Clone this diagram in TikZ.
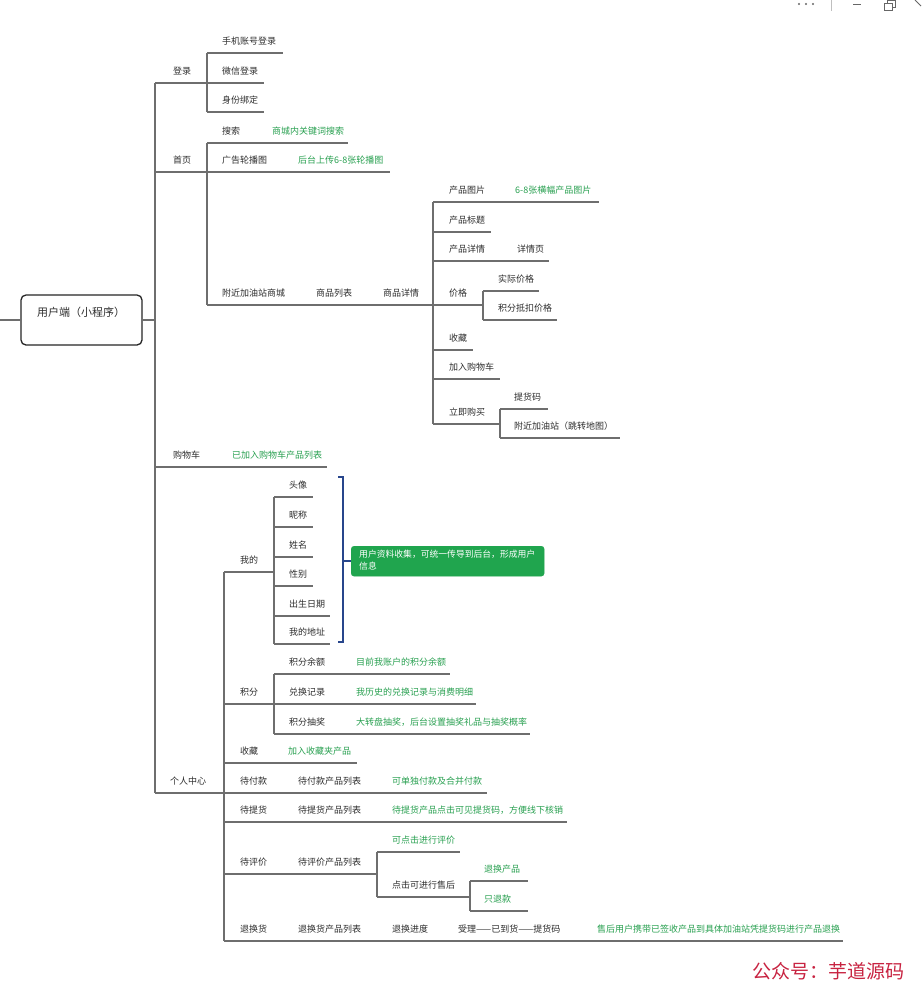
\documentclass[tikz,border=0pt]{standalone}
\usepackage{fontspec}
\setmainfont{Noto Sans CJK SC}
\definecolor{lgray}{RGB}{110,110,110}
\definecolor{tgray}{RGB}{45,45,45}
\definecolor{lgreen}{RGB}{40,160,80}
\definecolor{boxgreen}{RGB}{32,165,78}
\definecolor{brblue}{RGB}{40,70,140}
\definecolor{wmred}{RGB}{200,35,65}
\begin{document}
\begin{tikzpicture}[x=1pt,y=-1pt,
  txt/.style={anchor=base west, inner sep=0pt, font=\fontsize{9}{11}\selectfont, text=tgray},
  grn/.style={txt, text=lgreen},
  ln/.style={draw=lgray, line width=1.1pt},
  rootbox/.style={draw=black!85, line width=1.3pt, rounded corners=5pt},
]
\useasboundingbox[fill=white] (0,0) rectangle (921,990);

% ---------- window controls (top right) ----------
\foreach \xx in {799,806,813} \fill[black!60] (\xx,4) circle (1.1pt);
\draw[black!25, line width=0.6pt] (831,0) -- (831,11);
\draw[black!60, line width=0.8pt] (853,4) -- (861,4);
\draw[black!60, line width=0.8pt] (884,3) rectangle (892,10);
\draw[black!60, line width=0.8pt] (887,3) -- (887,0.5) -- (895,0.5) -- (895,7) -- (892,7);
\draw[black!60, line width=0.8pt] (915,0) -- (921,6);

% ---------- root ----------
\draw[rootbox] (21,295) rectangle (142,345);
\node[anchor=center, inner sep=0pt, font=\fontsize{11}{13}\selectfont, text=tgray] (root) at (81,312) {用户端（小程序）};
\coordinate (rootL) at (21,320);
\coordinate (rootR) at (142,320);
\draw[ln] (0,320) -- (rootL);
\draw[ln] (rootR) -- (155,320);

% main vertical
\draw[ln] (155,83) -- (155,793);

% ---------- 登录 ----------
\node[txt] (denglu) at (173,74.5) {登录};
\draw[ln] (155,83) -- (207,83);
\draw[ln] (207,53) -- (207,112);
\node[txt] (sj) at (222,44.5) {手机账号登录};
\node[txt] (wx) at (222,74.5) {微信登录};
\node[txt] (sf) at (222,103.5) {身份绑定};
\draw[ln] (207,53) -- (283,53);
\draw[ln] (207,83) -- (264,83);
\draw[ln] (207,112) -- (264,112);

% ---------- 首页 ----------
\node[txt] (shouye) at (173,163.5) {首页};
\draw[ln] (155,172) -- (207,172);
\draw[ln] (207,143) -- (207,305);
\node[txt] (ss) at (222,134.5) {搜索};
\node[grn] (ssg) at (272,134.5) {商城内关键词搜索};
\draw[ln] (207,143) -- (348,143);
\node[txt] (gg) at (222,163.5) {广告轮播图};
\node[grn] (ggg) at (298,163.5) {后台上传6-8张轮播图};
\draw[ln] (207,172) -- (390,172);
\node[txt] (fj) at (222,296.5) {附近加油站商城};
\node[txt] (splb) at (316,296.5) {商品列表};
\node[txt] (spxq) at (383,296.5) {商品详情};
\draw[ln] (207,305) -- (433,305);

% 商品详情 children
\draw[ln] (433,202) -- (433,424);
\node[txt] (cptp) at (449,193.5) {产品图片};
\node[grn] (cptpg) at (515,193.5) {6-8张横幅产品图片};
\draw[ln] (433,202) -- (599,202);
\node[txt] (cpbt) at (449,223.5) {产品标题};
\draw[ln] (433,232) -- (491,232);
\node[txt] (cpxq) at (449,252.5) {产品详情};
\node[txt] (xqy) at (517,252.5) {详情页};
\draw[ln] (433,261) -- (549,261);
\node[txt] (jg) at (449,296.5) {价格};
\draw[ln] (433,305) -- (483,305);
\draw[ln] (483,291) -- (483,320);
\node[txt] (sjjg) at (498,282.5) {实际价格};
\draw[ln] (483,291) -- (539,291);
\node[txt] (jfdk) at (498,311.5) {积分抵扣价格};
\draw[ln] (483,320) -- (557,320);
\node[txt] (sc1) at (449,341.5) {收藏};
\draw[ln] (433,350) -- (473,350);
\node[txt] (jrgwc) at (449,370.5) {加入购物车};
\draw[ln] (433,379) -- (500,379);
\node[txt] (ljgm) at (449,415.5) {立即购买};
\draw[ln] (433,424) -- (500,424);
\draw[ln] (500,409) -- (500,438);
\node[txt] (thm) at (514,400.5) {提货码};
\draw[ln] (500,409) -- (548,409);
\node[txt] (fjjyz) at (514,429.5) {附近加油站（跳转地图）};
\draw[ln] (500,438) -- (620,438);

% ---------- 购物车 ----------
\node[txt] (gwc) at (173,458.5) {购物车};
\node[grn] (gwcg) at (232,458.5) {已加入购物车产品列表};
\draw[ln] (155,467) -- (327,467);

% ---------- 个人中心 ----------
\node[txt] (grzx) at (170,784.5) {个人中心};
\draw[ln] (155,793) -- (224,793);
\draw[ln] (224,572) -- (224,941);

% 我的
\node[txt] (wd) at (240,563.5) {我的};
\draw[ln] (224,572) -- (274,572);
\draw[ln] (274,497) -- (274,644);
\node[txt] (tx) at (289,488.5) {头像};
\draw[ln] (274,497) -- (313,497);
\node[txt] (nc) at (289,518.5) {昵称};
\draw[ln] (274,527) -- (313,527);
\node[txt] (xm) at (289,548.5) {姓名};
\draw[ln] (274,557) -- (313,557);
\node[txt] (xb) at (289,577.5) {性别};
\draw[ln] (274,586) -- (313,586);
\node[txt] (csrq) at (289,607.5) {出生日期};
\draw[ln] (274,616) -- (330,616);
\node[txt] (wddz) at (289,635.5) {我的地址};
\draw[ln] (274,644) -- (330,644);

% bracket + green box
\draw[draw=brblue, line width=1.2pt] (338,477) -- (343,477) -- (343,642) -- (338,642);
\node[draw=boxgreen, fill=boxgreen, rounded corners=3pt, minimum width=193pt, minimum height=30pt, inner sep=0pt, anchor=north west] (gbox) at (351,546) {};
\draw[draw=brblue, line width=1.2pt] (343,561) -- (gbox.west |- 0,561);
\node[anchor=north west, inner sep=0pt, align=left, text=white, font=\fontsize{8.8}{11.5}\selectfont] (gboxt) at (359,550) {用户资料收集，可统一传导到后台，形成用户\\信息};

% 积分
\node[txt] (jf) at (240,695.5) {积分};
\draw[ln] (224,704) -- (274,704);
\draw[ln] (274,674) -- (274,734);
\node[txt] (jfye) at (289,665.5) {积分余额};
\node[grn] (jfyeg) at (356,665.5) {目前我账户的积分余额};
\draw[ln] (274,674) -- (450,674);
\node[txt] (dhjl) at (289,695.5) {兑换记录};
\node[grn] (dhjlg) at (356,695.5) {我历史的兑换记录与消费明细};
\draw[ln] (274,704) -- (476,704);
\node[txt] (jfcj) at (289,725.5) {积分抽奖};
\node[grn] (jfcjg) at (356,725.5) {大转盘抽奖，后台设置抽奖礼品与抽奖概率};
\draw[ln] (274,734) -- (530,734);

% 收藏
\node[txt] (sc2) at (240,754.5) {收藏};
\node[grn] (sc2g) at (288,754.5) {加入收藏夹产品};
\draw[ln] (224,763) -- (357,763);

% 待付款
\node[txt] (dfk) at (240,784.5) {待付款};
\node[txt] (dfklb) at (298,784.5) {待付款产品列表};
\node[grn] (dfkg) at (392,784.5) {可单独付款及合并付款};
\draw[ln] (224,793) -- (487,793);

% 待提货
\node[txt] (dth) at (240,813.5) {待提货};
\node[txt] (dthlb) at (298,813.5) {待提货产品列表};
\node[grn] (dthg) at (392,813.5) {待提货产品点击可见提货码，方便线下核销};
\draw[ln] (224,822) -- (567,822);

% 待评价
\node[txt] (dpj) at (240,865.5) {待评价};
\node[txt] (dpjlb) at (298,865.5) {待评价产品列表};
\draw[ln] (224,874) -- (377,874);
\draw[ln] (377,852) -- (377,897);
\node[grn] (kdj) at (392,843.5) {可点击进行评价};
\draw[ln] (377,852) -- (460,852);
\node[txt] (djsh) at (392,888.5) {点击可进行售后};
\draw[ln] (377,897) -- (470,897);
\draw[ln] (470,881) -- (470,911);
\node[grn] (thcp) at (484,872.5) {退换产品};
\draw[ln] (470,881) -- (528,881);
\node[grn] (ztk) at (484,902.5) {只退款};
\draw[ln] (470,911) -- (528,911);

% 退换货
\node[txt] (thh) at (240,932.5) {退换货};
\node[txt] (thhlb) at (298,932.5) {退换货产品列表};
\node[txt] (thjd) at (392,932.5) {退换进度};
\node[txt] (sl) at (458,932.5) {受理——已到货——提货码};
\node[grn] (thhg) at (597,932.5) {售后用户携带已签收产品到具体加油站凭提货码进行产品退换};
\draw[ln] (224,941) -- (843,941);

% ---------- watermark ----------
\node[anchor=west, inner sep=0pt, text=wmred, font=\fontsize{19}{22}\selectfont] (wm) at (752,971) {公众号：芋道源码};
\end{tikzpicture}
\end{document}
